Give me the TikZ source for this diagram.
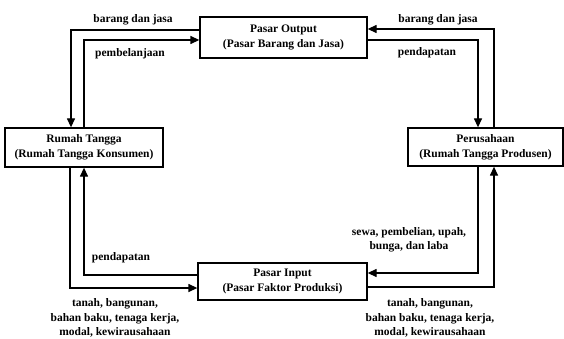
\documentclass[tikz,border=0pt]{standalone}
\usepackage{fontspec}
\setmainfont{Liberation Serif}
\usetikzlibrary{arrows.meta}

\begin{document}
\begin{tikzpicture}[x=1pt,y=-1pt,
    box/.style={draw,line width=1.3pt,align=center,inner sep=0pt,font=\bfseries\fontsize{11.5}{15}\selectfont},
    flow/.style={line width=1.3pt,-{Triangle[length=9pt,width=8pt]}},
    lbl/.style={font=\bfseries\fontsize{11.5}{14.5}\selectfont,align=center,inner sep=0pt}]
    \useasboundingbox (0,0) rectangle (564,339);

    % pasar dan rumah tangga
    \node[box,minimum width=167pt,minimum height=41pt] (output) at (283.5,37.5) {Pasar Output\\(Pasar Barang dan Jasa)};
    \node[box,minimum width=158pt,minimum height=39pt] (rt) at (84,147.5) {Rumah Tangga\\(Rumah Tangga Konsumen)};
    \node[box,minimum width=155pt,minimum height=38pt] (prs) at (485.5,147) {Perusahaan\\(Rumah Tangga Produsen)};
    \node[box,minimum width=169pt,minimum height=37pt] (input) at (282.5,281.5) {Pasar Input\\(Pasar Faktor Produksi)};

    % arus
    \draw[flow] ([yshift=7.5pt]output.west) -| ([xshift=-13pt]rt.north);
    \draw[flow] (rt.north) |- ([yshift=-2.5pt]output.west);
    \draw[flow] ([xshift=8.5pt]prs.north) |- ([yshift=8.5pt]output.east);
    \draw[flow] ([yshift=-2.5pt]output.east) -| ([xshift=-7.5pt]prs.north);
    \draw[flow] ([yshift=6.5pt]input.west) -| (rt.south);
    \draw[flow] ([xshift=-14pt]rt.south) |- ([yshift=-6.5pt]input.west);
    \draw[flow] ([xshift=-7.5pt]prs.south) |- ([yshift=8.5pt]input.east);
    \draw[flow] ([yshift=-5.5pt]input.east) -| ([xshift=8.5pt]prs.south);

    % keterangan
    \node[lbl] (barang1) at (133,20) {barang dan jasa};
    \node[lbl] (belanja) at (130,54) {pembelanjaan};
    \node[lbl] (barang2) at (438,20) {barang dan jasa};
    \node[lbl] (dapat1) at (427,53) {pendapatan};
    \node[lbl] (dapat2) at (121,258) {pendapatan};
    \node[lbl] (sewa) at (409,240) {sewa, pembelian, upah,\\bunga, dan laba};
    \node[lbl] (faktor1) at (115,318) {tanah, bangunan,\\bahan baku, tenaga kerja,\\modal, kewirausahaan};
    \node[lbl] (faktor2) at (430,318) {tanah, bangunan,\\bahan baku, tenaga kerja,\\modal, kewirausahaan};
\end{tikzpicture}
\end{document}
